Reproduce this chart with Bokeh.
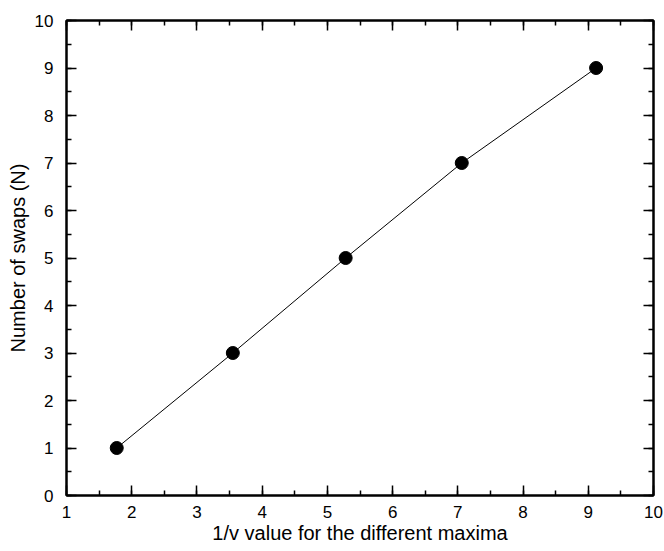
from bokeh.plotting import figure
from bokeh.models import Range1d, LinearAxis, SingleIntervalTicker
from bokeh.embed import file_html
from bokeh.resources import INLINE

inv_v = [1.77, 3.55, 5.28, 7.06, 9.12]
swaps = [1, 3, 5, 7, 9]

FONT = "Liberation Sans"

p = figure(width=664, height=551, output_backend="svg", toolbar_location=None,
           x_range=Range1d(1, 10), y_range=Range1d(0, 10),
           x_axis_location=None, y_axis_location=None)
p.min_border_left = 66
p.min_border_right = 11
p.min_border_top = 20
p.min_border_bottom = 56
p.xgrid.visible = False
p.ygrid.visible = False
p.outline_line_color = "black"
p.outline_line_width = 2
p.background_fill_color = "white"
p.border_fill_color = "white"

def style(ax, labels=True):
    ax.ticker = SingleIntervalTicker(interval=1, num_minor_ticks=2)
    ax.axis_line_color = "black"
    ax.axis_line_width = 2
    ax.major_tick_in = 10
    ax.major_tick_out = 0
    ax.minor_tick_in = 5
    ax.minor_tick_out = 0
    ax.major_tick_line_width = 1.5
    ax.minor_tick_line_width = 1.5
    ax.major_tick_line_color = "black"
    ax.minor_tick_line_color = "black"
    ax.major_label_text_font = FONT
    ax.major_label_text_font_size = "17px"
    ax.major_label_text_color = "black"
    ax.axis_label_text_font = FONT
    ax.axis_label_text_font_size = "20px"
    ax.axis_label_text_font_style = "normal"
    ax.axis_label_text_color = "black"
    if not labels:
        ax.major_label_text_font_size = "0px"
        ax.major_label_text_alpha = 0

xb = LinearAxis(axis_label="1/v value for the different maxima")
style(xb)
xb.major_label_standoff = 10
xb.axis_label_standoff = 1
p.add_layout(xb, "below")

yl = LinearAxis(axis_label="Number of swaps (N)")
style(yl)
yl.major_label_standoff = 13
yl.axis_label_standoff = 3
p.add_layout(yl, "left")

xt = LinearAxis()
style(xt, labels=False)
p.add_layout(xt, "above")
yr = LinearAxis()
style(yr, labels=False)
p.add_layout(yr, "right")

p.line(inv_v, swaps, line_color="black", line_width=1)
p.scatter(inv_v, swaps, size=13, fill_color="black", line_color="black")

open("out.html", "w").write(file_html(p, INLINE))
